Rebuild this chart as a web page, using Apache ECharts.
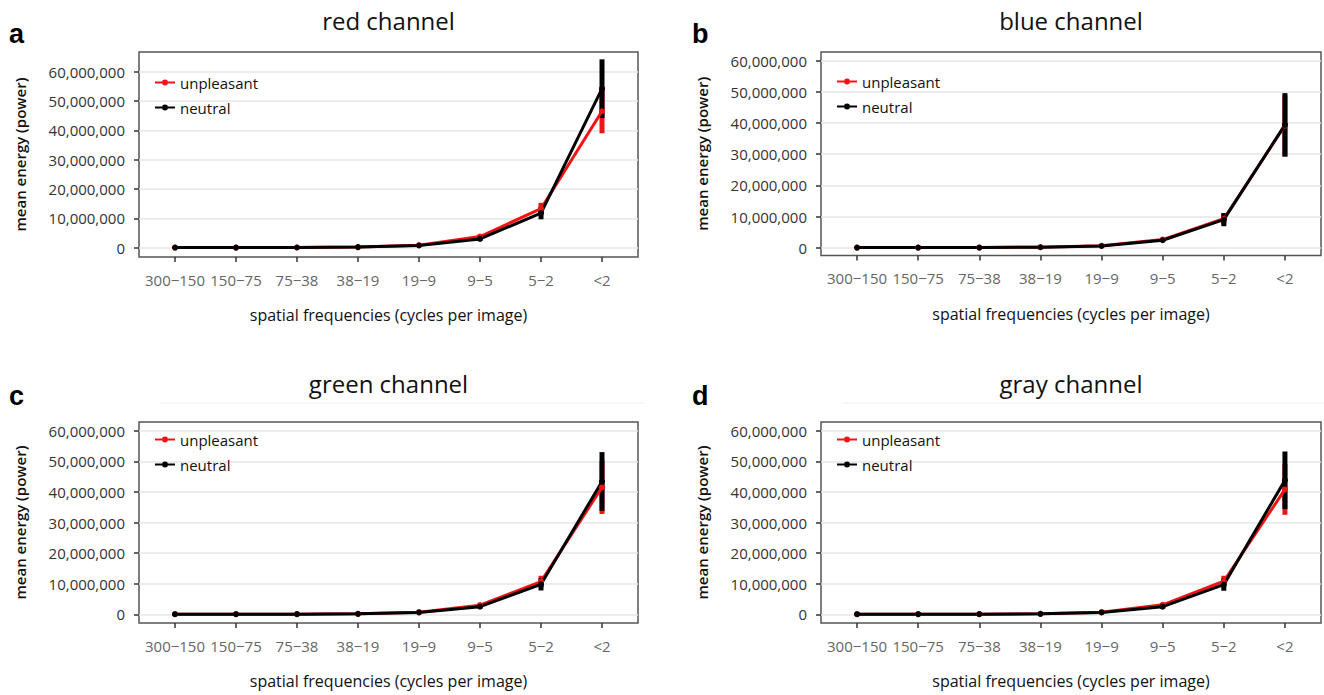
<!DOCTYPE html>
<html>
<head>
<meta charset="utf-8">
<script src="https://cdn.jsdelivr.net/npm/echarts@6/dist/echarts.min.js"></script>
<style>
html,body{margin:0;padding:0;background:#fff;}
#chart{width:1324px;height:695px;}
</style>
</head>
<body>
<div id="chart"></div>
<script>
// ---- data (values in millions of power units) ----
const categories = ['300\u2212150', '150\u221275', '75\u221238', '38\u221219', '19\u22129', '9\u22125', '5\u22122', '<2'];
const yTickValues = [0, 10, 20, 30, 40, 50, 60];
const panelTitles = ['red channel', 'blue channel', 'green channel', 'gray channel'];
const panelLetters = ['a', 'b', 'c', 'd'];
const seriesNames = ['unpleasant', 'neutral'];

const redUnpleasant    = [0.04, 0.05, 0.06, 0.20, 0.85, 3.8, 13.3, 46.5];
const redUnpleasantErr = [0.05, 0.05, 0.05, 0.10, 0.30, 0.7, 2.0, 7.5];
const redNeutral       = [0.04, 0.05, 0.06, 0.20, 0.75, 3.0, 11.8, 54.2];
const redNeutralErr    = [0.05, 0.05, 0.05, 0.10, 0.30, 0.6, 2.1, 10.0];

const blueUnpleasant    = [0.03, 0.04, 0.05, 0.15, 0.60, 2.6, 9.3, 39.2];
const blueUnpleasantErr = [0.05, 0.05, 0.05, 0.10, 0.25, 0.5, 1.8, 9.8];
const blueNeutral       = [0.03, 0.04, 0.05, 0.15, 0.55, 2.4, 9.0, 39.4];
const blueNeutralErr    = [0.05, 0.05, 0.05, 0.10, 0.25, 0.5, 2.1, 10.2];

const greenUnpleasant    = [0.03, 0.04, 0.05, 0.15, 0.70, 3.0, 10.7, 41.5];
const greenUnpleasantErr = [0.05, 0.05, 0.05, 0.10, 0.30, 0.6, 1.9, 8.7];
const greenNeutral       = [0.03, 0.04, 0.05, 0.15, 0.60, 2.5, 9.8, 43.4];
const greenNeutralErr    = [0.05, 0.05, 0.05, 0.10, 0.30, 0.6, 2.0, 9.6];

const grayUnpleasant    = [0.03, 0.04, 0.05, 0.15, 0.70, 3.1, 10.8, 40.8];
const grayUnpleasantErr = [0.05, 0.05, 0.05, 0.10, 0.30, 0.6, 1.8, 8.3];
const grayNeutral       = [0.03, 0.04, 0.05, 0.15, 0.60, 2.5, 9.7, 43.8];
const grayNeutralErr    = [0.05, 0.05, 0.05, 0.10, 0.30, 0.6, 2.0, 9.4];

// ---- layout ----
const panels = [
  { left: 139, top: 52,  width: 499, height: 205, ymin: -3.17, ymax: 66.7, u: redUnpleasant,   ue: redUnpleasantErr,   n: redNeutral,   ne: redNeutralErr,   letterX: 9,   titleY: 8,   letterY: 20,  legendTop: 75 },
  { left: 821, top: 52,  width: 500, height: 203.5, ymin: -2.5, ymax: 62.8, u: blueUnpleasant,  ue: blueUnpleasantErr,  n: blueNeutral,  ne: blueNeutralErr,  letterX: 692, titleY: 8,   letterY: 20,  legendTop: 74 },
  { left: 139, top: 422, width: 499, height: 201, ymin: -2.84, ymax: 62.84, u: greenUnpleasant, ue: greenUnpleasantErr, n: greenNeutral, ne: greenNeutralErr, letterX: 9,   titleY: 371, letterY: 382, legendTop: 432 },
  { left: 821, top: 422, width: 500, height: 201, ymin: -2.84, ymax: 62.84, u: grayUnpleasant,  ue: grayUnpleasantErr,  n: grayNeutral,  ne: grayNeutralErr,  letterX: 692, titleY: 371, letterY: 382, legendTop: 432 }
];

const RED = '#f01414';
const BLACK = '#000000';
const FONT = '"Open Sans", "Noto Sans", sans-serif';
// legend icon: short line with a filled dot in the middle (20 x 6 box)
const LEGEND_ICON = 'path://M0,1.9L7,1.9L7,4.1L0,4.1Z M13,1.9L20,1.9L20,4.1L13,4.1Z M7,3A3,3 0 1,1 13,3A3,3 0 1,1 7,3Z';

const grids = [], xAxes = [], yAxes = [], series = [], titles = [], legends = [], graphics = [];

function errRender(color) {
  return function (params, api) {
    const x = api.value(0);
    const p1 = api.coord([x, api.value(1)]);
    const p2 = api.coord([x, api.value(2)]);
    return {
      type: 'line',
      shape: { x1: p1[0], y1: p1[1], x2: p2[0], y2: p2[1] },
      style: { stroke: color, lineWidth: 5 }
    };
  };
}

panels.forEach((p, i) => {
  grids.push({
    left: p.left, top: p.top, width: p.width, height: p.height,
    show: true, borderColor: '#555', borderWidth: 1.5, backgroundColor: 'transparent'
  });
  xAxes.push({
    type: 'value', gridIndex: i, min: -0.59, max: 7.59, position: 'bottom',
    name: 'spatial frequencies (cycles per image)',
    nameLocation: 'middle', nameGap: 50,
    nameTextStyle: { fontFamily: FONT, fontSize: 16, color: '#111' },
    axisLine: { show: false, onZero: false },
    axisTick: { show: true, length: 5, inside: false, customValues: categories.map((c, k) => k), lineStyle: { color: '#333', width: 1.5 } },
    axisLabel: { customValues: categories.map((c, k) => k), formatter: v => categories[Math.round(v)],
                 fontFamily: FONT, fontSize: 15, color: '#666', margin: 15 },
    splitLine: { show: false }
  });
  yAxes.push({
    type: 'value', gridIndex: i, min: p.ymin, max: p.ymax, position: 'left',
    name: 'mean energy (power)', nameLocation: 'middle', nameGap: 112, nameRotate: 90,
    nameTextStyle: { fontFamily: FONT, fontSize: 15, fontWeight: 600, color: '#111' },
    axisLine: { show: false, onZero: false },
    axisTick: { show: true, length: 5, inside: false, customValues: yTickValues, lineStyle: { color: '#333', width: 1.5 } },
    axisLabel: { customValues: yTickValues, formatter: v => (Math.round(v * 1000000)).toLocaleString('en-US'),
                 fontFamily: FONT, fontSize: 15, color: '#333', margin: 14 },
    splitLine: { show: true, lineStyle: { color: '#e6e6e6', width: 1.5 } }
  });

  const uErr = p.u.map((v, k) => [k, v - p.ue[k], v + p.ue[k]]);
  const nErr = p.n.map((v, k) => [k, v - p.ne[k], v + p.ne[k]]);
  series.push({
    type: 'custom', name: 'unpleasant err', xAxisIndex: i, yAxisIndex: i,
    renderItem: errRender(RED), encode: { x: 0, y: [1, 2] }, data: uErr, silent: true
  });
  series.push({
    type: 'line', name: seriesNames[0], xAxisIndex: i, yAxisIndex: i,
    data: p.u.map((v, k) => [k, v]), symbol: 'circle', symbolSize: 6,
    lineStyle: { color: RED, width: 3 }, itemStyle: { color: RED }, animation: false
  });
  series.push({
    type: 'custom', name: 'neutral err', xAxisIndex: i, yAxisIndex: i,
    renderItem: errRender(BLACK), encode: { x: 0, y: [1, 2] }, data: nErr, silent: true
  });
  series.push({
    type: 'line', name: seriesNames[1], xAxisIndex: i, yAxisIndex: i,
    data: p.n.map((v, k) => [k, v]), symbol: 'circle', symbolSize: 6,
    lineStyle: { color: BLACK, width: 3 }, itemStyle: { color: BLACK }, animation: false
  });

  titles.push({
    text: panelTitles[i], left: p.left + p.width / 2, top: p.titleY, textAlign: 'center', padding: 0,
    textStyle: { fontFamily: FONT, fontSize: 24, fontWeight: 'normal', color: '#111' }
  });
  titles.push({
    text: panelLetters[i], left: p.letterX, top: p.letterY, padding: 0,
    textStyle: { fontFamily: '"Liberation Sans", Arial, sans-serif', fontSize: 27, fontWeight: 'bold', color: '#000' }
  });
  legends.push({
    data: seriesNames.map(n => ({ name: n, icon: LEGEND_ICON })),
    orient: 'vertical', left: p.left + 16, top: p.legendTop,
    itemWidth: 20, itemHeight: 6, itemGap: 10, padding: 0,
    textStyle: { fontFamily: FONT, fontSize: 15, color: '#111' }, selectedMode: false
  });
});

// faint separator lines below lower panel titles
graphics.push({ type: 'line', shape: { x1: 160, y1: 403, x2: 645, y2: 403 }, style: { stroke: '#f0f0f0', lineWidth: 1 }, silent: true });
graphics.push({ type: 'line', shape: { x1: 842, y1: 403, x2: 1324, y2: 403 }, style: { stroke: '#f0f0f0', lineWidth: 1 }, silent: true });

const chart = echarts.init(document.getElementById('chart'), null, { renderer: 'svg' });
chart.setOption({
  backgroundColor: '#fff',
  animation: false,
  title: titles,
  legend: legends,
  grid: grids,
  xAxis: xAxes,
  yAxis: yAxes,
  series: series,
  graphic: graphics
});
</script>
</body>
</html>
